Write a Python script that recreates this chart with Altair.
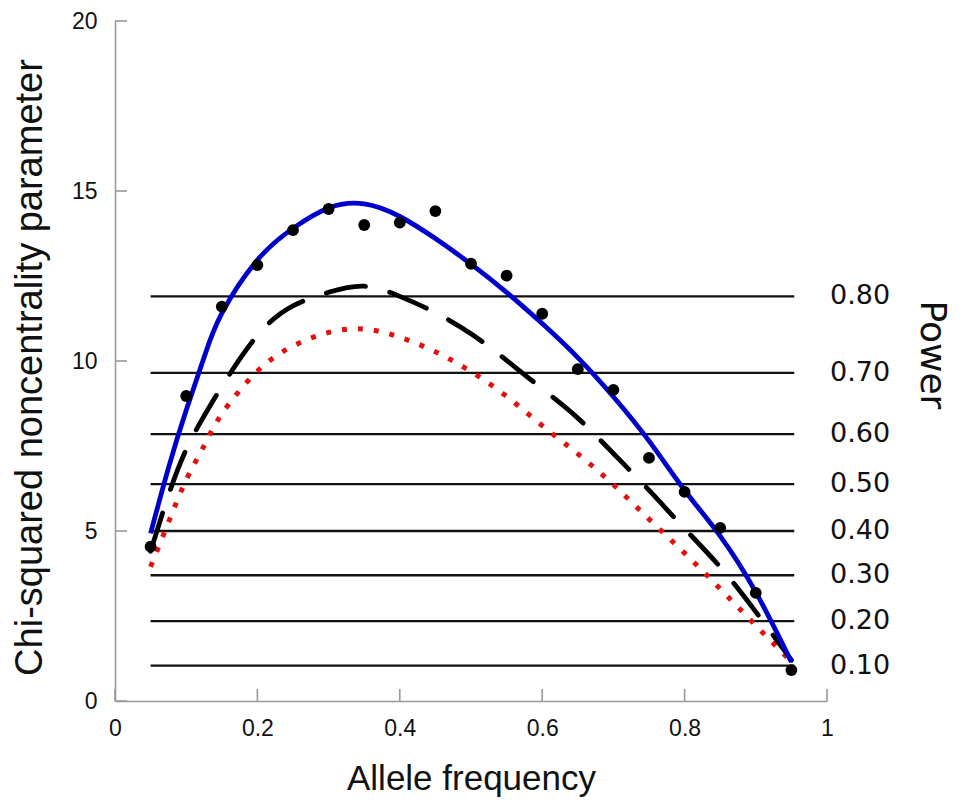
import altair as alt
import pandas as pd

# Observed noncentrality values (black dots)
dot_freq = [0.05, 0.10, 0.15, 0.20, 0.25, 0.30, 0.35, 0.40, 0.45, 0.50,
            0.55, 0.60, 0.65, 0.70, 0.75, 0.80, 0.85, 0.90, 0.95]
dot_ncp = [4.54, 8.97, 11.6, 12.82, 13.85, 14.47, 14.0, 14.07, 14.41, 12.86,
           12.51, 11.39, 9.76, 9.15, 7.15, 6.15, 5.09, 3.18, 0.91]

# Curves
curve_freq = [0.05, 0.075, 0.10, 0.125, 0.15, 0.20, 0.25, 0.30, 0.35, 0.40, 0.45,
              0.50, 0.55, 0.60, 0.65, 0.70, 0.75, 0.80, 0.85, 0.90, 0.95]
blue_ncp = [4.93, 6.85, 8.55, 10.1, 11.4, 12.97, 13.9, 14.5, 14.62, 14.25, 13.6,
            12.85, 12.02, 11.1, 10.1, 8.95, 7.65, 6.2, 4.85, 3.2, 1.15]
black_ncp = [4.4, 6.05, 7.4, 8.38, 9.25, 10.75, 11.62, 12.02, 12.2, 11.9, 11.42,
             10.8, 10.02, 9.18, 8.32, 7.28, 6.2, 5.07, 3.94, 2.62, 1.2]
red_ncp = [3.95, 5.25, 6.5, 7.5, 8.44, 9.7, 10.44, 10.84, 10.94, 10.7, 10.27,
           9.69, 8.96, 8.1, 7.27, 6.36, 5.35, 4.35, 3.3, 2.22, 1.15]

# Power threshold lines
power_labels = ["0.80", "0.70", "0.60", "0.50", "0.40", "0.30", "0.20", "0.10"]
power_ncp = [11.9, 9.65, 7.85, 6.38, 5.0, 3.7, 2.35, 1.04]
line_start = 0.05
line_end = 0.954

x_ticks = [0, 0.2, 0.4, 0.6, 0.8, 1.0]
y_ticks = [0, 5, 10, 15, 20]

AXIS_GRAY = "#999999"

xscale = alt.Scale(domain=[0, 1], nice=False)
yscale = alt.Scale(domain=[0, 20], nice=False)

x_axis = alt.Axis(
    title="Allele frequency", values=x_ticks, ticks=False, grid=False,
    labelExpr="datum.value == 0 ? '0' : datum.value == 1 ? '1' : format(datum.value, '.1f')",
    labelPadding=16, labelFlush=False,
    titleFontSize=35, titleY=88, titleBaseline="alphabetic",
)
y_axis = alt.Axis(
    title="Chi-squared noncentrality parameter", values=y_ticks, ticks=False, grid=False,
    labelPadding=18, labelFlush=False,
    titleFontSize=38, titleAngle=270, titleX=-74, titleY=346,
    titleBaseline="alphabetic",
)

df_dots = pd.DataFrame({"freq": dot_freq, "ncp": dot_ncp})
df_curves = pd.DataFrame({
    "freq": curve_freq * 3,
    "ncp": blue_ncp + black_ncp + red_ncp,
    "series": ["blue"] * len(curve_freq) + ["black"] * len(curve_freq) + ["red"] * len(curve_freq),
})
df_power = pd.DataFrame({"label": power_labels, "ncp": power_ncp,
                         "x1": [line_start] * len(power_ncp), "x2": [line_end] * len(power_ncp)})
df_xt = pd.DataFrame({"v": x_ticks})
df_yt = pd.DataFrame({"v": y_ticks})

base_x = alt.X("freq:Q", scale=xscale, axis=x_axis)
base_y = alt.Y("ncp:Q", scale=yscale, axis=y_axis)

hlines = alt.Chart(df_power).mark_rule(color="#111111", strokeWidth=2.4).encode(
    x=alt.X("x1:Q", scale=xscale, axis=x_axis), x2="x2:Q", y=base_y
)

red_line = alt.Chart(df_curves).transform_filter(alt.datum.series == "red").mark_line(
    color="#e41010", strokeWidth=5, strokeDash=[5, 11], interpolate="natural"
).encode(x=base_x, y=base_y)

black_line = alt.Chart(df_curves).transform_filter(alt.datum.series == "black").mark_line(
    color="#000000", strokeWidth=4.8, strokeDash=[40, 25], strokeCap="round", interpolate="natural"
).encode(x=base_x, y=base_y)

blue_line = alt.Chart(df_curves).transform_filter(alt.datum.series == "blue").mark_line(
    color="#0000cc", strokeWidth=4.8, interpolate="natural"
).encode(x=base_x, y=base_y)

dots = alt.Chart(df_dots).mark_circle(color="#000000", opacity=1, size=140).encode(
    x=base_x, y=base_y
)

power_text = alt.Chart(df_power).mark_text(
    align="left", baseline="middle", font="DejaVu Sans", fontSize=27, color="#111111"
).encode(x=alt.value(715), y=base_y, text="label:N")

power_title = alt.Chart(pd.DataFrame({"t": ["Power"]})).mark_text(
    align="center", baseline="alphabetic", angle=90, font="DejaVu Sans", fontSize=36,
    color="#111111"
).encode(x=alt.value(806), y=alt.value(334), text="t:N")

xticks = alt.Chart(df_xt).mark_rule(color=AXIS_GRAY, strokeWidth=1.6).encode(
    x=alt.X("v:Q", scale=xscale, axis=x_axis), y=alt.value(680), y2=alt.value(668)
)
yticks = alt.Chart(df_yt).mark_rule(color=AXIS_GRAY, strokeWidth=1.6).encode(
    y=alt.Y("v:Q", scale=yscale, axis=y_axis), x=alt.value(0), x2=alt.value(12)
)

chart = alt.layer(
    hlines, red_line, black_line, blue_line, dots, power_text, power_title, xticks, yticks
).properties(
    width=712, height=680,
    autosize=alt.AutoSizeParams(type="none"),
    padding={"left": 107, "top": 13, "right": 128, "bottom": 96},
    background="white",
).configure_view(stroke=None).configure_axis(
    labelFont="Liberation Sans", labelFontSize=23, labelColor="#111111",
    titleFont="Liberation Sans", titleFontWeight="normal", titleColor="#111111",
    domainColor=AXIS_GRAY, domainWidth=1.6,
)

chart.save("out.html", embed_options={"renderer": "svg", "actions": False})
